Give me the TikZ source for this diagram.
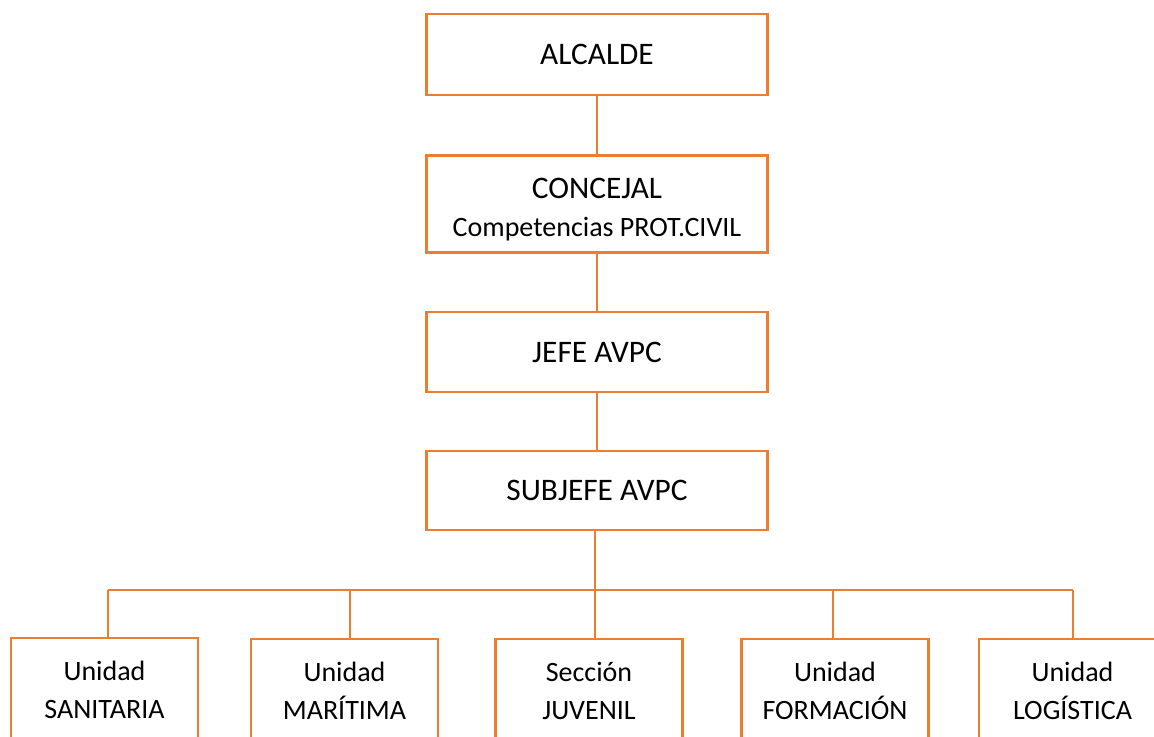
\documentclass[tikz,border=0pt]{standalone}
\usepackage{fontspec}
\setmainfont{Carlito}
\usepackage{tikz}
\usetikzlibrary{calc}
\definecolor{orgline}{HTML}{ED7D31}
\tikzset{
  post/.style={draw=orgline, line width=1.6pt, fill=white, align=center,
    minimum width=#1*0.75pt, inner sep=0pt},
  topbox/.style={post=341, font=\fontsize{23.5}{28.5}\selectfont},
  unitbox/.style={post=187, minimum height=104*0.75pt, font=\fontsize{21}{28.5}\selectfont},
  link/.style={draw=orgline, line width=1.6pt}
}

\begin{document}
\begin{tikzpicture}[x=0.75pt,y=-0.75pt]
  \useasboundingbox (0,0) rectangle (1154,736);
  \clip (0,0) rectangle (1154,736);

  % chain of command
  \node[topbox, minimum height=81*0.75pt] (alcalde) at (597,54.5) {ALCALDE};
  \node[topbox, minimum height=97*0.75pt, font=\fontsize{21}{28.5}\selectfont] (concejal) at (597,204)
    {\rule{0pt}{24pt}{\fontsize{23.5}{28.5}\selectfont CONCEJAL}\\Competencias PROT.CIVIL};
  \node[topbox, minimum height=80*0.75pt] (jefe) at (597,352) {JEFE AVPC};
  \node[topbox, minimum height=79*0.75pt] (subjefe) at (597,490.5) {SUBJEFE AVPC};

  \draw[link] (alcalde) -- (concejal);
  \draw[link] (concejal) -- (jefe);
  \draw[link] (jefe) -- (subjefe);

  % units
  \node[unitbox] (sanitaria) at (104.5,690) {Unidad\\SANITARIA};
  \node[unitbox] (maritima) at (344.5,691) {Unidad\\MARÍTIMA};
  \node[unitbox] (juvenil) at (589,691) {Sección\\JUVENIL};
  \node[unitbox] (formacion) at (835,691) {Unidad\\FORMACIÓN};
  \node[unitbox] (logistica) at (1072.5,691) {Unidad\\LOGÍSTICA};

  %draw bus
  \coordinate (busL) at (108,590);
  \coordinate (busR) at (1073,590);
  \coordinate (busM) at (595,590);
  \draw[link] (busL) -- (busR);
  \draw[link] (subjefe.south -| busM) -- (busM);
  \draw[link] (busL) -- (busL |- sanitaria.north);
  \draw[link] (350,590) -- (350,0 |- maritima.north);
  \draw[link] (busM) -- (busM |- juvenil.north);
  \draw[link] (833,590) -- (833,0 |- formacion.north);
  \draw[link] (busR) -- (busR |- logistica.north);
\end{tikzpicture}
\end{document}
